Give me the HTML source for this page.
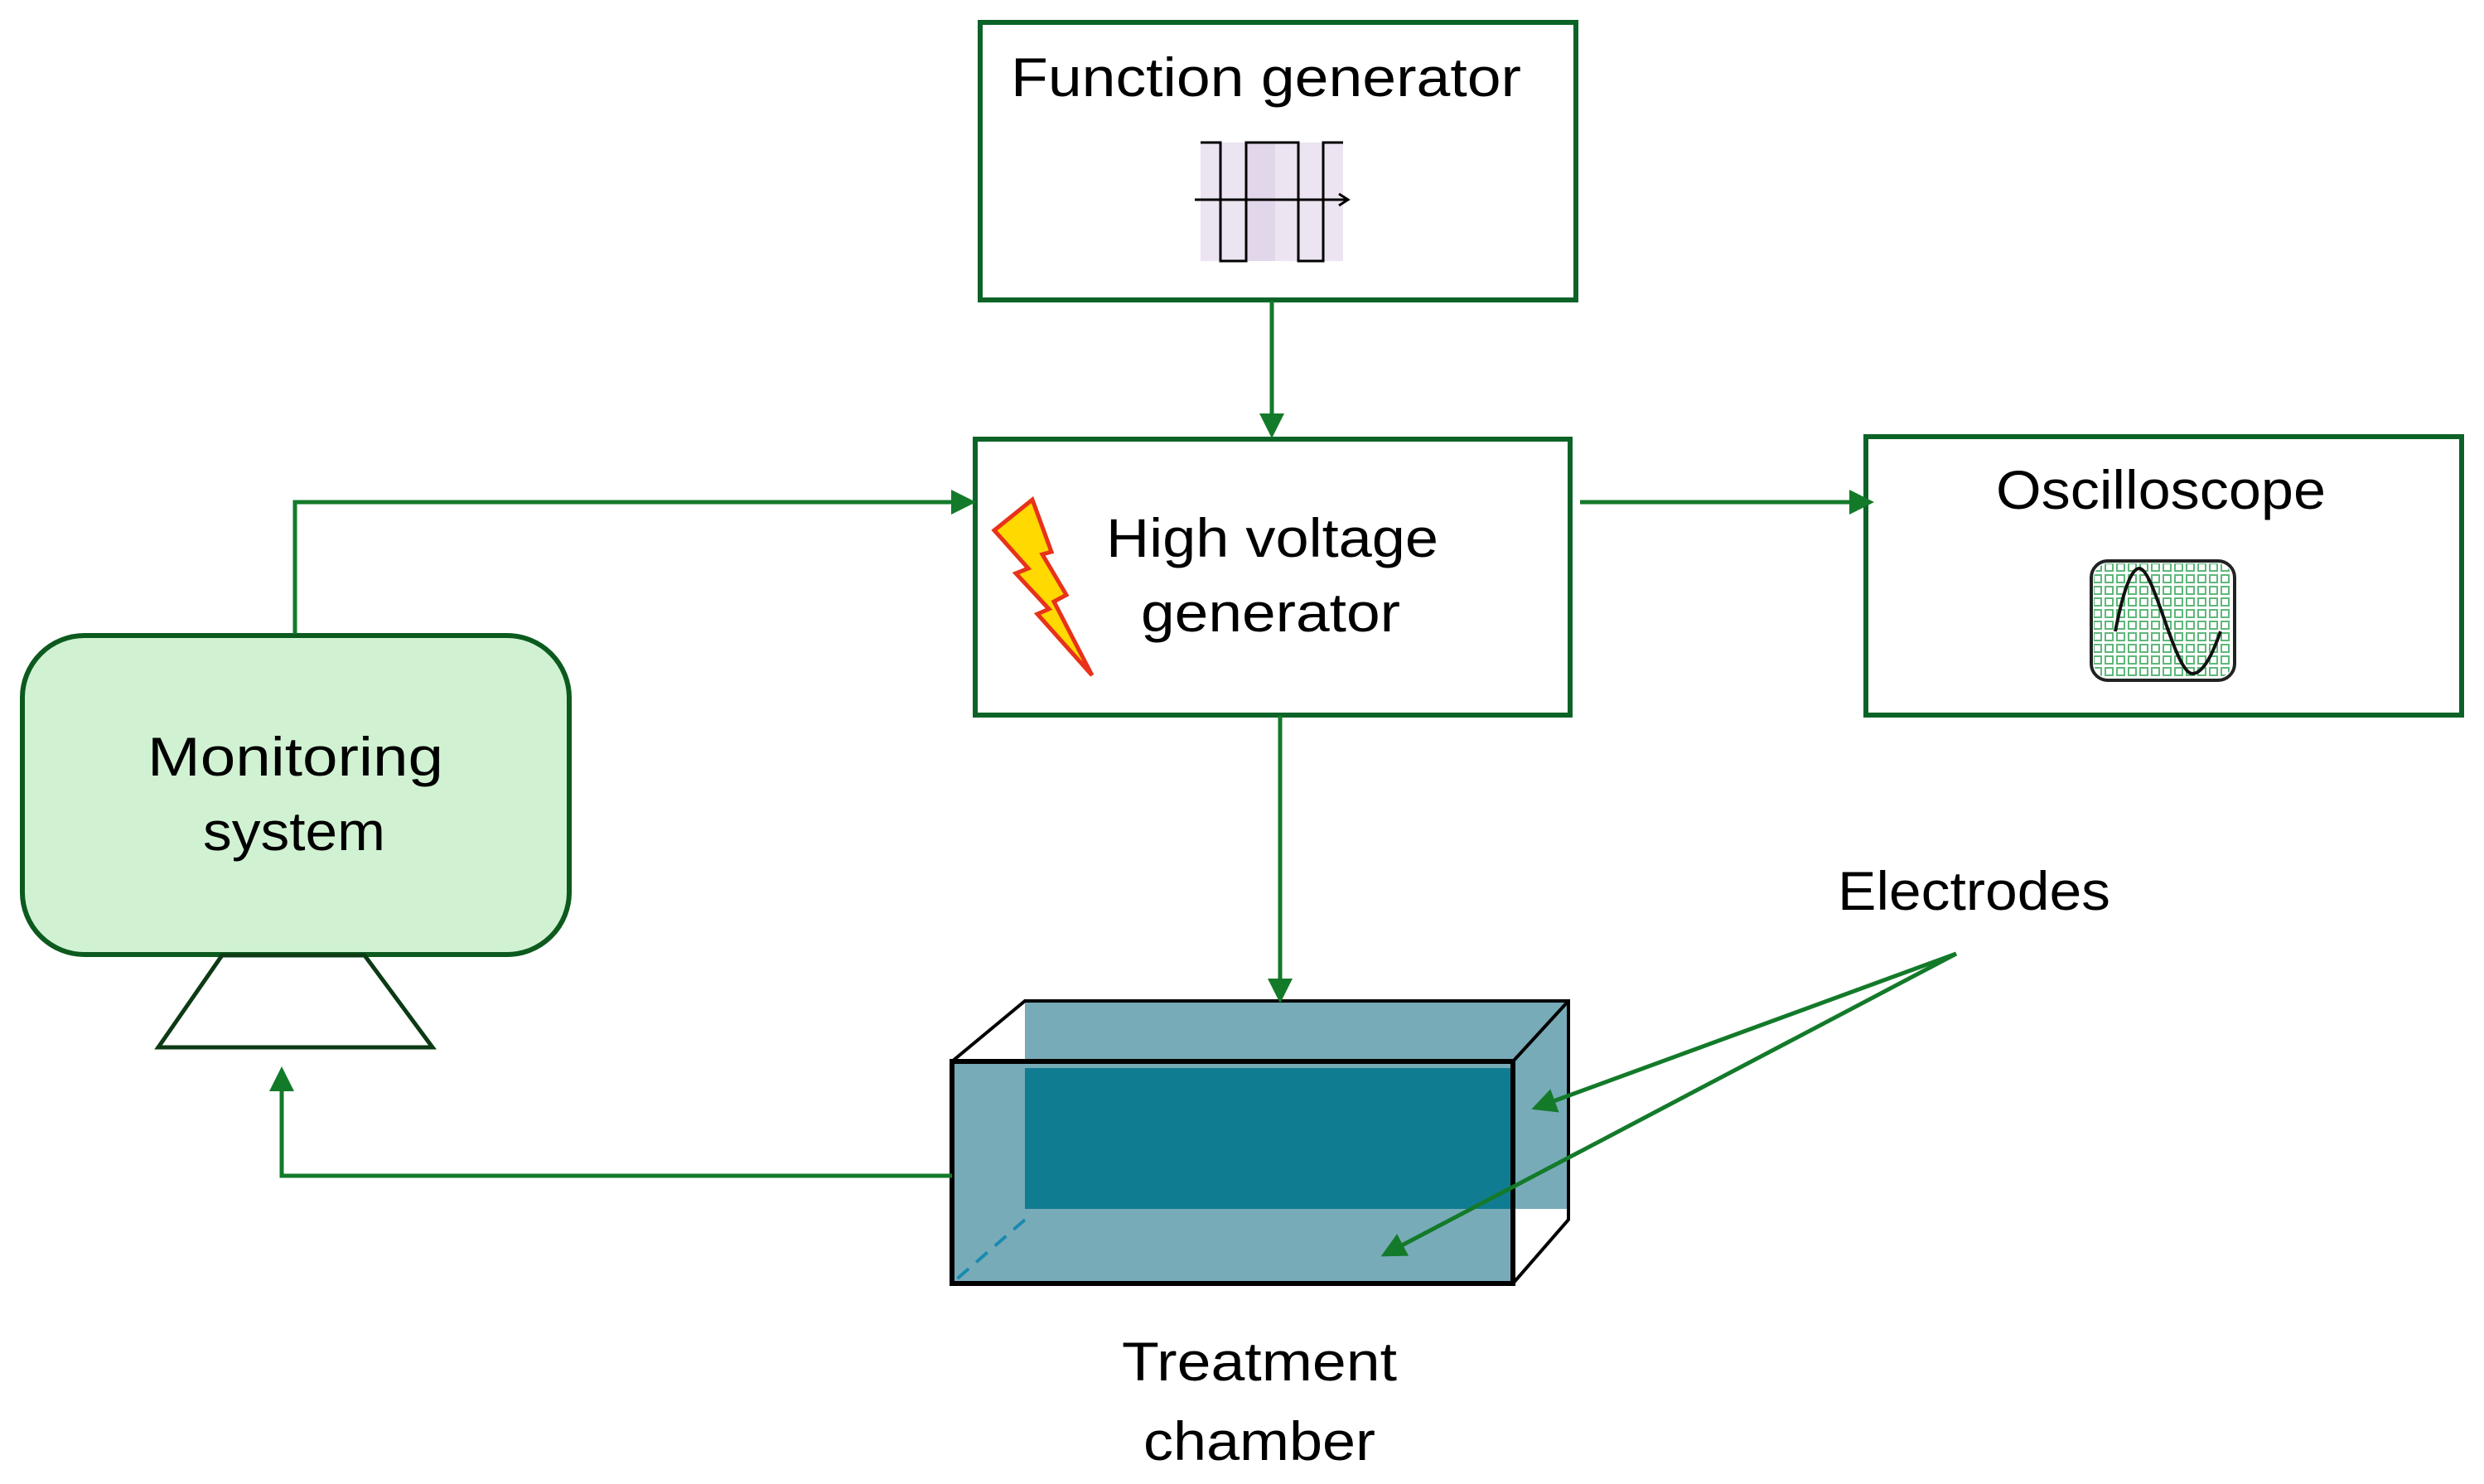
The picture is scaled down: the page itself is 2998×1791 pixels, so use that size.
<!DOCTYPE html>
<html><head><meta charset="utf-8"><style>html,body{margin:0;padding:0;background:#fff}svg{display:block}</style></head>
<body>
<svg width="2998" height="1791" viewBox="0 0 2998 1791" xmlns="http://www.w3.org/2000/svg" font-family="'Liberation Sans', sans-serif" font-size="66" fill="#000">
<defs>
<marker id="ah" markerWidth="6" markerHeight="6" refX="5" refY="3" orient="auto" markerUnits="strokeWidth"><path d="M0,0 L6,3 L0,6 z" fill="#137a2a"/></marker>
<pattern id="grid" width="14" height="14" patternUnits="userSpaceOnUse" x="2524" y="677"><rect x="3" y="3" width="9" height="9" fill="none" stroke="#5fb77a" stroke-width="2"/></pattern>
</defs>
<rect x="1183" y="27" width="719" height="335" fill="#fff" stroke="#0c6327" stroke-width="6"/>
<rect x="1177" y="530" width="718" height="333" fill="#fff" stroke="#0c6327" stroke-width="6"/>
<rect x="2252" y="527" width="719" height="336" fill="#fff" stroke="#0c6327" stroke-width="6"/>
<rect x="27" y="767" width="660" height="385" rx="75" fill="#d0f2d2" stroke="#0c5a1e" stroke-width="6"/>
<polygon points="268,1153 440,1153 522,1264 191,1264" fill="#fff" stroke="#0c3a14" stroke-width="5"/>
<text x="1220" y="116" textLength="616" lengthAdjust="spacingAndGlyphs">Function generator</text>
<text x="1335" y="672" textLength="401" lengthAdjust="spacingAndGlyphs">High voltage</text>
<text x="1377" y="762" textLength="313" lengthAdjust="spacingAndGlyphs">generator</text>
<text x="2409" y="614" textLength="398" lengthAdjust="spacingAndGlyphs">Oscilloscope</text>
<text x="178" y="936" textLength="357" lengthAdjust="spacingAndGlyphs">Monitoring</text>
<text x="245" y="1026" textLength="220" lengthAdjust="spacingAndGlyphs">system</text>
<text x="2218" y="1098" textLength="329" lengthAdjust="spacingAndGlyphs">Electrodes</text>
<text x="1354" y="1666" textLength="332" lengthAdjust="spacingAndGlyphs">Treatment</text>
<text x="1380" y="1762" textLength="280" lengthAdjust="spacingAndGlyphs">chamber</text>
<rect x="1449" y="172" width="172" height="143" fill="#ece4f1"/>
<rect x="1504" y="172" width="35" height="143" fill="#e2d6ea"/>
<line x1="1442" y1="241" x2="1627" y2="241" stroke="#000" stroke-width="3"/>
<polyline points="1616,234 1627,241 1616,248" fill="none" stroke="#000" stroke-width="3"/>
<polyline points="1449,172 1473,172 1473,315 1504,315 1504,172 1567,172 1567,315 1597,315 1597,172 1621,172" fill="none" stroke="#000" stroke-width="3"/>
<polygon points="1200,640 1246,603 1269,666 1258,669 1287,718 1272,726 1318,815 1252,741 1266,735 1226,692 1241,686" fill="#ffd900" stroke="#e8321a" stroke-width="5"/>
<rect x="2524" y="677" width="173" height="144" rx="20" fill="#fff" stroke="#222" stroke-width="4"/>
<rect x="2527" y="680" width="167" height="138" rx="18" fill="url(#grid)"/>
<path d="M2553,762 C2565,700 2575,686 2582,686 C2600,686 2625,813 2646,813 C2660,813 2672,785 2680,762" fill="none" stroke="#111" stroke-width="4"/>
<rect x="1237" y="1208" width="656" height="251" fill="#78abb8"/>
<rect x="1149" y="1281" width="677" height="268" fill="#78abb8"/>
<rect x="1237" y="1289" width="589" height="170" fill="#107c92"/>
<polyline points="1149,1281 1237,1208 1893,1208 1893,1472 1826,1549" fill="none" stroke="#000" stroke-width="4"/>
<line x1="1826" y1="1281" x2="1893" y2="1208" stroke="#000" stroke-width="4"/>
<rect x="1149" y="1281" width="677" height="268" fill="none" stroke="#000" stroke-width="6"/>
<line x1="1237" y1="1472" x2="1151" y2="1547" stroke="#1a8ab0" stroke-width="4" stroke-dasharray="18,12"/>
<g stroke="#137a2a" stroke-width="5" fill="none">
<line x1="1535" y1="363" x2="1535" y2="524" marker-end="url(#ah)"/>
<line x1="1545" y1="864" x2="1545" y2="1206" marker-end="url(#ah)"/>
<polyline points="356,765 356,606 1173,606" marker-end="url(#ah)"/>
<line x1="1907" y1="606" x2="2257" y2="606" marker-end="url(#ah)"/>
<polyline points="1149,1419 340,1419 340,1292" marker-end="url(#ah)"/>
<line x1="2361" y1="1151" x2="1853" y2="1337" marker-end="url(#ah)"/>
<line x1="2361" y1="1151" x2="1671" y2="1514" marker-end="url(#ah)"/>
</g>
</svg>
</body></html>
